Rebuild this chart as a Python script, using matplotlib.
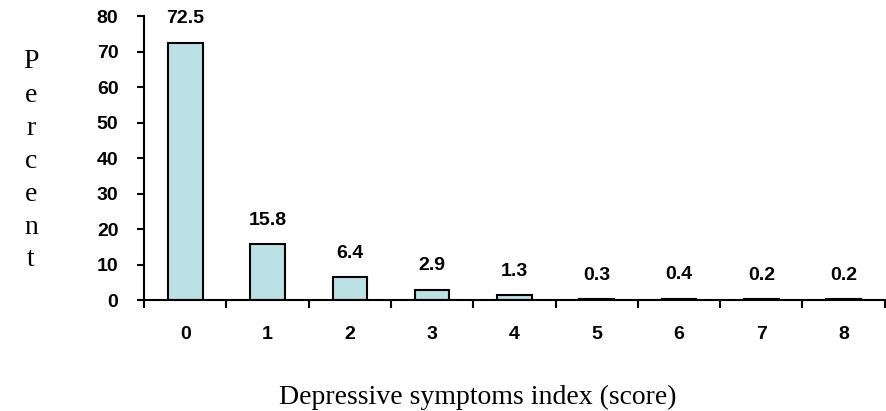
import numpy as np
import matplotlib.pyplot as plt

scores = ['0', '1', '2', '3', '4', '5', '6', '7', '8']
percent = [72.5, 15.8, 6.4, 2.9, 1.3, 0.3, 0.4, 0.2, 0.2]

fig = plt.figure(figsize=(8.87, 4.11), dpi=100)
ax = fig.add_axes([0.1625, 0.27, 0.835, 0.691])

x = np.arange(len(scores))
ax.bar(x, percent, width=0.42, color='#BAE1E3', edgecolor='black', linewidth=1.5)
for xi, v in zip(x, percent):
    ax.annotate(f'{v}', (xi, v), xytext=(0, 11), textcoords='offset points',
                ha='center', va='bottom', fontsize=14, fontweight='bold',
                family='Liberation Sans')

ax.set_xlim(-0.5, len(scores) - 0.5)
ax.set_ylim(0, 80)
ax.set_yticks(range(0, 81, 10))
ax.set_xticks(x)
ax.set_xticklabels(scores)
ax.set_xticks(np.arange(-0.5, len(scores)), minor=True)
ax.tick_params(axis='x', which='major', length=0, pad=19)
ax.tick_params(axis='x', which='minor', length=6, width=1.5, direction='out')
ax.tick_params(axis='y', length=5, width=1.5, pad=13.5)
for lab in ax.get_xticklabels() + ax.get_yticklabels():
    lab.set_fontsize(14)
    lab.set_fontweight('bold')
    lab.set_family('Liberation Sans')

for s in ['top', 'right']:
    ax.spines[s].set_visible(False)
for s in ['left', 'bottom']:
    ax.spines[s].set_linewidth(1.5)

# vertical stacked y label
for i, ch in enumerate('Percent'):
    fig.text(31 / 887, 1 - (62 + i * 33) / 411, ch, ha='center', va='center',
             fontsize=20, family='Liberation Serif')

fig.text(478 / 887, 1 - 397 / 411, 'Depressive symptoms index (score)',
         ha='center', va='center', fontsize=20, family='Liberation Serif')

fig.savefig('out.png', dpi=100)
